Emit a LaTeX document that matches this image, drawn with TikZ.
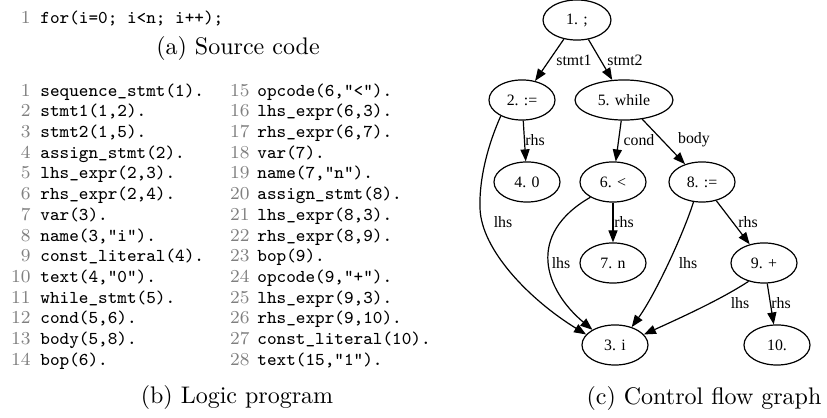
\documentclass[tikz,border=0pt]{standalone}
\usepackage{fontspec}
\newfontfamily\gvfont{Liberation Serif}
\newfontfamily\codefont{lmmono8-regular.otf}
\usetikzlibrary{shapes.geometric,arrows.meta}
\begin{document}
\begin{tikzpicture}[x=0.4167pt,y=-0.4167pt,
  gv/.style={draw, ellipse, line width=0.5pt, inner sep=0pt, minimum width=27.5pt, minimum height=16.7pt, font=\gvfont\fontsize{6.6}{7}\selectfont},
  elab/.style={inner sep=0pt, font=\gvfont\fontsize{6.6}{7}\selectfont},
  arr/.style={line width=0.5pt, -{Triangle[length=5pt,width=3.8pt]}},
  num/.style={anchor=mid east, inner sep=0pt, text=black!50, font=\fontsize{7.6}{8.5}\selectfont},
  code/.style={anchor=mid west, inner sep=0pt, font=\codefont\fontsize{7.55}{8.5}\selectfont},
  captext/.style={inner sep=0pt, font=\fontsize{10}{12}\selectfont}]
\useasboundingbox (0,0) rectangle (827,418);

% (a) source code
\node[num] (t0) at (31,18) {1};
\node[code] (t1) at (40,18) {for(i=0; i<n; i++);};
\node[captext] (capa) at (238,49) {(a) Source code};

% (b) logic program
\foreach \i/\t in {1/{sequence\_stmt(1).},2/{stmt1(1,2).},3/{stmt2(1,5).},4/{assign\_stmt(2).},5/{lhs\_expr(2,3).},6/{rhs\_expr(2,4).},7/{var(3).},8/{name(3,"i").},9/{const\_literal(4).},10/{text(4,"0").},11/{while\_stmt(5).},12/{cond(5,6).},13/{body(5,8).},14/{bop(6).}}{
  \node[num] (ln\i) at (31,{91+(\i-1)*20.7}) {\i};
  \node[code] (lc\i) at (40,{91+(\i-1)*20.7}) {\t};
}
\foreach \i/\t in {15/{opcode(6,"<").},16/{lhs\_expr(6,3).},17/{rhs\_expr(6,7).},18/{var(7).},19/{name(7,"n").},20/{assign\_stmt(8).},21/{lhs\_expr(8,3).},22/{rhs\_expr(8,9).},23/{bop(9).},24/{opcode(9,"+").},25/{lhs\_expr(9,3).},26/{rhs\_expr(9,10).},27/{const\_literal(10).},28/{text(15,"1").}}{
  \node[num] (ln\i) at (250,{91+(\i-15)*20.7}) {\i};
  \node[code] (lc\i) at (257,{91+(\i-15)*20.7}) {\t};
}
\node[captext] (capb) at (237,398) {(b) Logic program};

% (c) graph
\node[gv, minimum width=28.3pt] (n1) at (577,20) {1. ;};
\node[gv] (n2) at (522,100) {2. :=};
\node[gv, minimum width=40.8pt] (n5) at (624,100) {5. while};
\node[gv] (n4) at (527,182) {4. 0};
\node[gv] (n6) at (613,182) {6. <};
\node[gv] (n8) at (702,182) {8. :=};
\node[gv] (n7) at (613,263) {7. n};
\node[gv] (n9) at (764,263) {9. +};
\node[gv] (n3) at (615,345) {3. i};
\node[gv] (n10) at (777,345) {10.};

\draw[arr] (n1) -- (n2);
\draw[arr] (n1) -- (n5);
\draw[arr] (n2) -- (n4);
\draw[arr] (n5) -- (n6);
\draw[arr] (n5) -- (n8);
\draw[arr] (n6) -- (n7);
\draw[arr] (n8) -- (n9);
\draw[arr] (n9) -- (n10);
\draw[arr] (n2.217) .. controls (490,140) and (479,175) .. (480,208) .. controls (481,250) and (530,300) .. (n3.160);
\draw[arr] (n6.214) .. controls (525,235) and (545,290) .. (n3.146);
\draw[arr] (n8.247) .. controls (683,235) and (655,295) .. (n3.47);
\draw[arr] (n9.230) .. controls (720,300) and (680,318) .. (n3.20);

\node[elab] (l1) at (574,60) {stmt1};
\node[elab] (l2) at (625,60) {stmt2};
\node[elab] (l3) at (535,140) {rhs};
\node[elab] (l4) at (639,140) {cond};
\node[elab] (l5) at (694,140) {body};
\node[elab] (l6) at (503,222) {lhs};
\node[elab] (l7) at (624,222) {rhs};
\node[elab] (l8) at (748,222) {rhs};
\node[elab] (l9) at (561,263) {lhs};
\node[elab] (l10) at (688,263) {lhs};
\node[elab] (l11) at (740,303) {lhs};
\node[elab] (l12) at (781,303) {rhs};

\node[captext] (capc) at (704,399) {(c) Control flow graph};
\end{tikzpicture}
\end{document}
